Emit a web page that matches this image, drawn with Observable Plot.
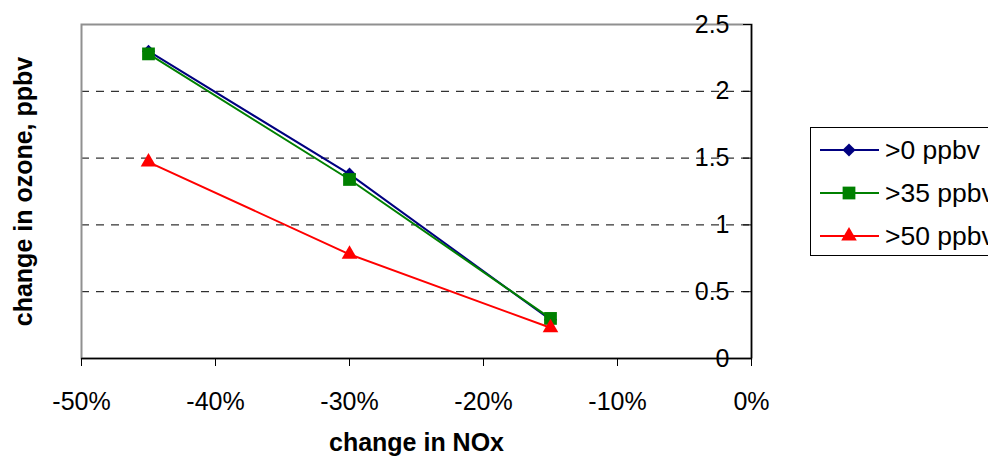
<!DOCTYPE html>
<html><head><meta charset="utf-8">
<script src="https://cdn.jsdelivr.net/npm/d3@7"></script>
<script src="https://cdn.jsdelivr.net/npm/@observablehq/plot@0.6"></script>
<style>
body{margin:0;background:#fff;font-family:"Liberation Sans",Arial,sans-serif;}
#wrap{position:relative;width:988px;height:456px;overflow:hidden;background:#fff;}
#legend{position:absolute;left:810px;top:127px;width:200px;height:129px;border:1px solid #000;background:#fff;box-sizing:border-box;}
</style></head><body><div id="wrap"><div id="legend"></div></div>
<script>
const nox = [-45, -30, -15];
const seriesNames = [">0 ppbv", ">35 ppbv", ">50 ppbv"];
const ozone0 = [2.30, 1.38, 0.29];
const ozone35 = [2.28, 1.34, 0.30];
const ozone50 = [1.47, 0.78, 0.23];
const seriesColors = ["#000080", "#008000", "#ff0000"];
const seriesSymbols = ["diamond2", "square", "triangle"];
const seriesR = [5.9, 7.2, 5.8];
const xTicks = [-50, -40, -30, -20, -10, 0];
const yTicks = [0, 0.5, 1, 1.5, 2, 2.5];
const gridTicks = [0.5, 1, 1.5, 2];
const xTitle = "change in NOx";
const yTitle = "change in ozone, ppbv";

const seriesValues = [ozone0, ozone35, ozone50];
const seriesRows = seriesValues.map((vals, i) => nox.map((x, j) => ({series: seriesNames[i], x, y: vals[j]})));

const seriesMarks = [];
seriesRows.forEach((rows, i) => {
  seriesMarks.push(Plot.line(rows, {x: "x", y: "y", stroke: seriesColors[i], strokeWidth: 2}));
  seriesMarks.push(Plot.dot(rows, {x: "x", y: "y", symbol: seriesSymbols[i], fill: seriesColors[i], stroke: "none", r: seriesR[i]}));
});

const chart = Plot.plot({
  width: 988, height: 456,
  marginLeft: 81, marginRight: 237, marginTop: 24, marginBottom: 98,
  style: {fontFamily: "'Liberation Sans', Arial, sans-serif", fontSize: "25px", color: "#000", background: "#fff", overflow: "visible"},
  x: {domain: [-50, 0]},
  y: {domain: [0, 2.5]},
  marks: [
    Plot.ruleY(gridTicks, {stroke: "#000", strokeWidth: 1, strokeDasharray: "8,7"}),
    Plot.frame({stroke: "#909090", strokeWidth: 2}),
    Plot.ruleY([0], {stroke: "#000", strokeWidth: 1.5}),
    Plot.ruleX([0], {stroke: "#000", strokeWidth: 1.5}),
    Plot.axisX({ticks: xTicks, tickFormat: d => d + "%", tickSize: 8, tickPadding: 26, label: null, fontSize: 25}),
    Plot.axisY({anchor: "left", ticks: yTicks, tickFormat: d => String(d), tickSize: 8, tickPadding: 14, dx: 670, label: null, fontSize: 25}),
    ...seriesMarks,
    Plot.text([xTitle], {frameAnchor: "bottom", dy: 84, lineAnchor: "middle", textAnchor: "middle", fontWeight: "bold", fontSize: 25, text: d => d}),
    Plot.text([yTitle], {frameAnchor: "left", dx: -58, rotate: -90, textAnchor: "middle", lineAnchor: "middle", fontWeight: "bold", fontSize: 25, text: d => d})
  ]
});
document.getElementById("wrap").insertBefore(chart, document.getElementById("legend"));

// legend
const lg = d3.select("#legend").append("svg").attr("width", 200).attr("height", 129)
  .style("position", "absolute").style("left", "-1px").style("top", "-1px").style("overflow", "visible");
const rowY = [23, 66, 109];
const symMap = {diamond2: d3.symbolDiamond2, square: d3.symbolSquare, triangle: d3.symbolTriangle};
seriesNames.forEach((name, i) => {
  const g = lg.append("g").attr("transform", `translate(0,${rowY[i]})`);
  g.append("line").attr("x1", 10).attr("x2", 69).attr("y1", 0).attr("y2", 0).attr("stroke", seriesColors[i]).attr("stroke-width", 2);
  g.append("path").attr("transform", "translate(39,0)")
    .attr("d", d3.symbol(symMap[seriesSymbols[i]], Math.PI * seriesR[i] * seriesR[i])())
    .attr("fill", seriesColors[i]);
  g.append("text").attr("x", 75).attr("y", 0).attr("dy", "0.35em")
    .attr("font-size", 26.5).attr("font-family", "'Liberation Sans', Arial, sans-serif").text(name);
});
</script>
</body></html>
